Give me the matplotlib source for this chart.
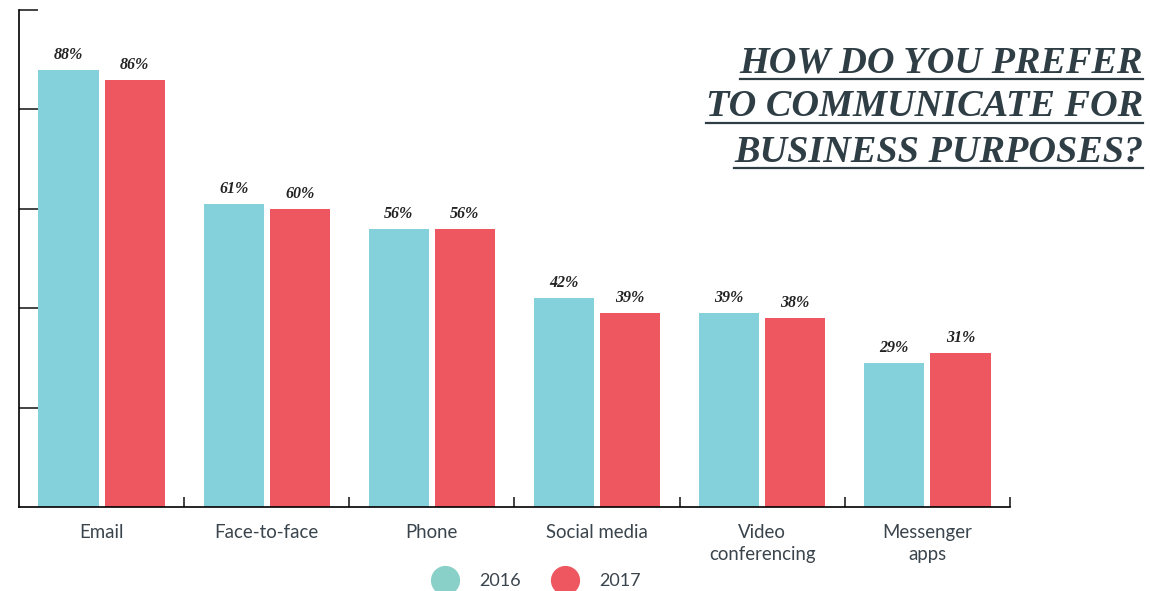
import matplotlib.pyplot as plt
from matplotlib.lines import Line2D
import numpy as np

# Chart data
categories = ["Email", "Face-to-face", "Phone", "Social media", "Video\nconferencing", "Messenger\napps"]
pct_2016 = [88, 61, 56, 42, 39, 29]
pct_2017 = [86, 60, 56, 39, 38, 31]
years = ["2016", "2017"]

c2016 = "#84d1db"
c2017 = "#ee5760"
legend_colors = ["#88d0c8", "#ee5760"]
title_color = "#2f3d45"
label_color = "#3a444c"

fig = plt.figure(figsize=(11.5, 5.91), dpi=100)
ax = fig.add_axes([19 / 1150, 1 - 507 / 591, 991 / 1150, 497 / 591])

x = np.arange(len(categories))
w = 0.364
ax.bar(x - 0.2, pct_2016, width=w, color=c2016, zorder=1)
ax.bar(x + 0.2, pct_2017, width=w, color=c2017, zorder=1)

# value labels
for xs, vals in [(x - 0.2, pct_2016), (x + 0.2, pct_2017)]:
    for xi, v in zip(xs, vals):
        ax.annotate(f"{v}%", (xi, v), xytext=(0, 5), textcoords="offset points",
                    ha="center", va="bottom", fontsize=11.5, fontweight="bold",
                    fontstyle="italic", family="Liberation Serif", color="#222222")

ax.set_xlim(-0.5, len(categories) - 0.5)
ax.set_ylim(0, 100)

for s in ["top", "right"]:
    ax.spines[s].set_visible(False)
for s in ["left", "bottom"]:
    ax.spines[s].set_linewidth(1.2)
    ax.spines[s].set_zorder(3)

ax.set_yticks([20, 40, 60, 80, 100])
ax.set_yticklabels([])
ax.tick_params(axis="y", direction="in", length=14, width=1.1, color="#111111")

ax.set_xticks(x)
ax.set_xticklabels(categories, fontsize=13.4, family="Lato", color=label_color, linespacing=1.4)
ax.tick_params(axis="x", length=0, pad=12)
ax.set_xticks(np.arange(len(categories)) + 0.5, minor=True)
ax.tick_params(axis="x", which="minor", direction="in", length=7, width=1.1, color="#111111")

# legend
handles = [Line2D([], [], marker="o", linestyle="none", markersize=20,
                  markerfacecolor=c, markeredgecolor=c) for c in legend_colors]
leg = fig.legend(handles, years, loc="center", bbox_to_anchor=(534 / 1150, 1 - 581 / 591),
                 ncol=2, frameon=False, handletextpad=0.9, columnspacing=1.45,
                 prop={"family": "Lato", "size": 13})
for t in leg.get_texts():
    t.set_color(label_color)

# title, right aligned and underlined
title_lines = ["HOW DO YOU PREFER", "TO COMMUNICATE FOR", "BUSINESS PURPOSES?"]
title_y = [63, 107, 152]
fig.canvas.draw()
renderer = fig.canvas.get_renderer()
for line, yy in zip(title_lines, title_y):
    t = fig.text(1143 / 1150, 1 - yy / 591, line, ha="right", va="center",
                 fontsize=27.5, fontweight="bold", fontstyle="italic",
                 family="Liberation Serif", color=title_color)
    bb = t.get_window_extent(renderer=renderer)
    uy = (bb.y0 + 2) / fig.bbox.height
    fig.add_artist(Line2D([bb.x0 / fig.bbox.width, 1143 / 1150], [uy, uy],
                          transform=fig.transFigure, color=title_color, linewidth=1.6))

fig.savefig("out.png", dpi=100)
